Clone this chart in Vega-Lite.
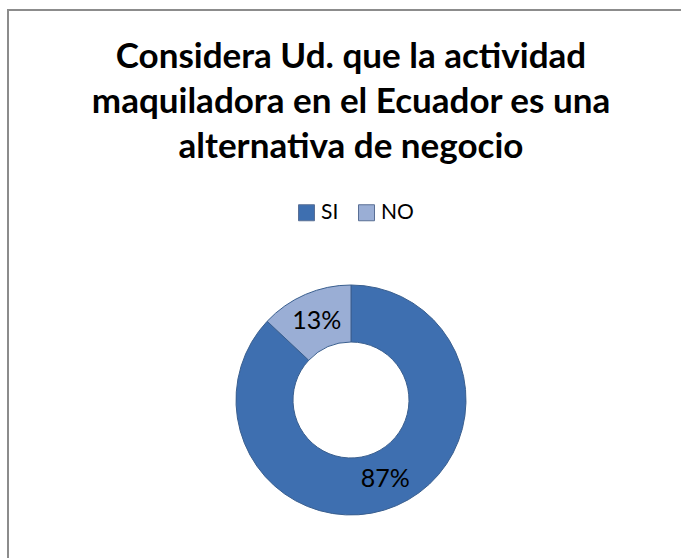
{
  "$schema": "https://vega.github.io/schema/vega-lite/v6.json",
  "autosize": "none",
  "width": 686,
  "height": 780,
  "padding": {"left": 8, "top": 10, "right": 0, "bottom": 0},
  "background": "white",
  "view": {"stroke": "#8c8c8c", "strokeWidth": 2, "fill": "white"},
  "config": {"font": "Lato"},
  "title": {
    "text": ["Considera Ud. que la actividad", "maquiladora en el Ecuador es una", "alternativa de negocio"],
    "font": "Lato",
    "fontSize": 35,
    "fontWeight": "bold",
    "color": "black",
    "lineHeight": 45,
    "anchor": "middle",
    "frame": "group",
    "dy": 159
  },
  "data": {
    "values": [
      {"respuesta": "SI", "porcentaje": 0.87},
      {"respuesta": "NO", "porcentaje": 0.13}
    ]
  },
  "encoding": {
    "theta": {"field": "porcentaje", "type": "quantitative", "stack": true},
    "order": {"field": "respuesta", "sort": "descending"}
  },
  "layer": [
    {
      "mark": {"type": "arc", "innerRadius": 58, "outerRadius": 115, "stroke": "#3a5f8f", "strokeWidth": 1},
      "encoding": {
        "color": {
          "field": "respuesta",
          "type": "nominal",
          "sort": ["SI", "NO"],
          "scale": {"domain": ["SI", "NO"], "range": ["#3E6FB0", "#9AAED5"]},
          "legend": {
            "title": null,
            "orient": "none",
            "direction": "horizontal",
            "legendX": 288,
            "legendY": 192,
            "symbolType": "square",
            "symbolSize": 256,
            "symbolStrokeColor": "#5a6f95",
            "symbolStrokeWidth": 1,
            "labelFontSize": 21,
            "labelFont": "Lato",
            "labelColor": "black",
            "labelOffset": 4,
            "columnPadding": 17,
            "padding": 0
          }
        }
      }
    },
    {
      "mark": {"type": "text", "radius": 86, "fontSize": 25, "font": "Lato"},
      "encoding": {
        "text": {"field": "porcentaje", "type": "quantitative", "format": ".0%"},
        "color": {"value": "black"}
      }
    }
  ]
}
